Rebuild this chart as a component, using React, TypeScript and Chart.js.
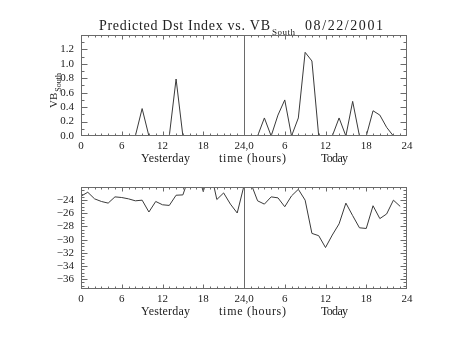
import React, { useEffect, useRef } from 'react';
import { Chart, registerables } from 'chart.js';

Chart.register(...registerables);

const FONT = "'Liberation Serif', 'DejaVu Serif', serif";
const FRAME = '#6a6a6a';
const LINE = '#3a3a3a';
const TEXT = '#222222';

// Tick positions / labels
const xTickValues = [0, 6, 12, 18, 24, 30, 36, 42, 48];
const xTickLabels = ['0', '6', '12', '18', '24,0', '6', '12', '18', '24'];
const vbTickValues = [0, 0.2, 0.4, 0.6, 0.8, 1.0, 1.2];
const dstTickValues = [-36, -34, -32, -30, -28, -26, -24];

// VB_South (hourly)
const vbYesterday = [0, 0, 0, 0, 0, 0, 0, 0, 0, 0.38, 0, 0, 0, 0, 0.79, 0, 0, 0, 0, 0, 0, 0, 0, 0];
const vbToday = [0, 0, 0, 0.25, 0, 0.29, 0.5, 0, 0.25, 1.16, 1.04, 0, 0, 0, 0.25, 0, 0.48, 0, 0, 0.35, 0.29, 0.12, 0];

// Dst (nT, hourly)
const dstYesterday = [-23.4, -22.8, -23.8, -24.2, -24.45, -23.5, -23.6, -23.8, -24.1, -24.0, -25.8, -24.2, -24.7, -24.8, -23.25, -23.2, -20.2, -19.2, -22.7, -19.2, -23.9, -22.9, -24.6, -25.95];
const dstToday = [-21.8, -21.4, -24.1, -24.6, -23.5, -23.65, -25.0, -23.35, -22.35, -24.0, -29.05, -29.4, -31.2, -29.3, -27.6, -24.45, -26.35, -28.2, -28.3, -24.85, -26.8, -26.1, -24.0, -24.95];

const toPoints = (yest: number[], today: number[]) => [
  ...yest.map((v, i) => ({ x: i, y: v })),
  ...today.map((v, i) => ({ x: 24 + i, y: v })),
];

function fitText(ctx: any, text: string, x0: number, x1: number, y: number, font: string) {
  ctx.font = font;
  ctx.letterSpacing = '0px';
  const w = ctx.measureText(text).width;
  const n = text.length;
  const ls = n > 1 ? (x1 - x0 - w) / (n - 1) : 0;
  ctx.letterSpacing = ls + 'px';
  ctx.textAlign = 'left';
  ctx.fillText(text, x0, y);
  ctx.letterSpacing = '0px';
}

type FrameCfg = {
  yMinorStep: number;
  yMajorStep: number;
  drawTitle: boolean;
  yLabel: (ctx: any) => void;
};

function framePlugin(cfg: FrameCfg) {
  return {
    id: 'idlFrame',
    afterDatasetsDraw(chart: any) {
      const { ctx, chartArea: a, scales } = chart;
      const xs = scales.x;
      const ys = scales.y;
      ctx.save();
      ctx.strokeStyle = FRAME;
      ctx.lineWidth = 1;
      const L = Math.round(a.left) + 0.5;
      const R = Math.round(a.right) - 0.5;
      const T = Math.round(a.top) + 0.5;
      const B = Math.round(a.bottom) - 0.5;
      const clampX = (p: number) => Math.min(Math.max(p, L), R);
      const clampY = (p: number) => Math.min(Math.max(p, T), B);
      const seg = (x1: number, y1: number, x2: number, y2: number) => {
        ctx.beginPath();
        ctx.moveTo(x1, y1);
        ctx.lineTo(x2, y2);
        ctx.stroke();
      };
      ctx.strokeRect(L, T, R - L, B - T);
      // x ticks: major every 6h, minor every hour
      for (let v = xs.min; v <= xs.max + 1e-9; v += 1) {
        const major = Math.abs(v % 6) < 1e-9;
        const len = major ? 4 : 2;
        const px = clampX(Math.round(xs.getPixelForValue(v)) + 0.5);
        seg(px, B, px, B - len);
        seg(px, T, px, T + len);
      }
      // y ticks
      const start = Math.ceil(ys.min / cfg.yMinorStep - 1e-9);
      const end = Math.floor(ys.max / cfg.yMinorStep + 1e-9);
      for (let k = start; k <= end; k++) {
        const v = k * cfg.yMinorStep;
        const r = v / cfg.yMajorStep;
        const major = Math.abs(r - Math.round(r)) < 1e-6;
        const len = major ? 6 : 3;
        const py = clampY(Math.round(ys.getPixelForValue(v)) + 0.5);
        seg(L, py, L + len, py);
        seg(R, py, R - len, py);
      }
      // day separator
      const sep = Math.round(xs.getPixelForValue(24)) + 0.5;
      seg(sep, T, sep, B);

      // x axis captions
      ctx.fillStyle = TEXT;
      ctx.textBaseline = 'alphabetic';
      const cy = a.bottom + 26;
      const f12 = `12px ${FONT}`;
      fitText(ctx, 'Yesterday', 141, 190, cy, f12);
      fitText(ctx, 'time (hours)', 219, 286, cy, f12);
      fitText(ctx, 'Today', 321, 348, cy, f12);

      cfg.yLabel(ctx);

      if (cfg.drawTitle) {
        const f14 = `14px ${FONT}`;
        fitText(ctx, 'Predicted Dst Index vs. VB', 99, 270, 30, f14);
        fitText(ctx, 'South', 272, 295, 35, `9px ${FONT}`);
        fitText(ctx, '08/22/2001', 305, 383, 30, f14);
      }
      ctx.restore();
    },
  };
}

function makeChart(
  canvas: HTMLCanvasElement,
  points: { x: number; y: number }[],
  yMin: number,
  yMax: number,
  yTicks: number[],
  yFmt: (v: number) => string,
  padTop: number,
  xHeight: number,
  cfg: FrameCfg
) {
  return new Chart(canvas, {
    type: 'line',
    data: {
      datasets: [
        {
          data: points,
          borderColor: LINE,
          borderWidth: 1,
          pointRadius: 0,
          tension: 0,
          fill: false,
          clip: 0,
        } as any,
      ],
    },
    options: {
      animation: false,
      responsive: true,
      maintainAspectRatio: false,
      events: [],
      layout: { padding: { left: 0, right: 47, top: padTop, bottom: 0 } },
      plugins: { legend: { display: false }, tooltip: { enabled: false }, title: { display: false } },
      scales: {
        x: {
          type: 'linear',
          min: 0,
          max: 48,
          grid: { display: false, drawTicks: false },
          border: { display: false },
          afterBuildTicks: (s: any) => {
            s.ticks = xTickValues.map((v) => ({ value: v }));
          },
          afterFit: (s: any) => {
            s.height = xHeight;
          },
          ticks: {
            autoSkip: false,
            maxRotation: 0,
            minRotation: 0,
            padding: 4,
            color: TEXT,
            font: { family: FONT, size: 11 },
            callback: (_v: any, i: number) => xTickLabels[i],
          },
        },
        y: {
          type: 'linear',
          min: yMin,
          max: yMax,
          grid: { display: false, drawTicks: false },
          border: { display: false },
          afterBuildTicks: (s: any) => {
            s.ticks = yTicks.map((v) => ({ value: v }));
          },
          afterFit: (s: any) => {
            s.width = 81;
          },
          ticks: {
            autoSkip: false,
            padding: 7,
            color: TEXT,
            font: { family: FONT, size: 11 },
            callback: (v: any) => yFmt(Number(v)),
          },
        },
      },
    },
    plugins: [framePlugin(cfg)],
  } as any);
}

export default function App() {
  const topRef = useRef<HTMLCanvasElement>(null);
  const botRef = useRef<HTMLCanvasElement>(null);

  useEffect(() => {
    const top = makeChart(
      topRef.current!,
      toPoints(vbYesterday, vbToday),
      0,
      1.4,
      vbTickValues,
      (v) => v.toFixed(1),
      35,
      34,
      {
        yMinorStep: 0.1,
        yMajorStep: 0.2,
        drawTitle: true,
        yLabel: (ctx: any) => {
          ctx.save();
          ctx.translate(57, 108);
          ctx.rotate(-Math.PI / 2);
          ctx.font = `11px ${FONT}`;
          ctx.textAlign = 'left';
          ctx.fillText('VB', 0, 0);
          const w = ctx.measureText('VB').width;
          ctx.font = `8px ${FONT}`;
          ctx.fillText('South', w + 1, 4);
          ctx.restore();
        },
      }
    );
    const bot = makeChart(
      botRef.current!,
      toPoints(dstYesterday, dstToday),
      -37.5,
      -22,
      dstTickValues,
      (v) => String(Math.round(v)).replace('-', '\u2212'),
      17,
      52,
      {
        yMinorStep: 0.5,
        yMajorStep: 2,
        drawTitle: false,
        yLabel: (ctx: any) => {
          ctx.save();
          ctx.translate(52, 277);
          ctx.rotate(-Math.PI / 2);
          fitText(ctx, 'Dst (nT)', 0, 30, 0, `12px ${FONT}`);
          ctx.restore();
        },
      }
    );
    return () => {
      top.destroy();
      bot.destroy();
    };
  }, []);

  return (
    <div style={{ position: 'fixed', left: 0, top: 0, width: 454, height: 341, background: '#fff' }}>
      <div style={{ position: 'absolute', left: 0, top: 0, width: 454, height: 170 }}>
        <canvas ref={topRef} />
      </div>
      <div style={{ position: 'absolute', left: 0, top: 170, width: 454, height: 171 }}>
        <canvas ref={botRef} />
      </div>
    </div>
  );
}
